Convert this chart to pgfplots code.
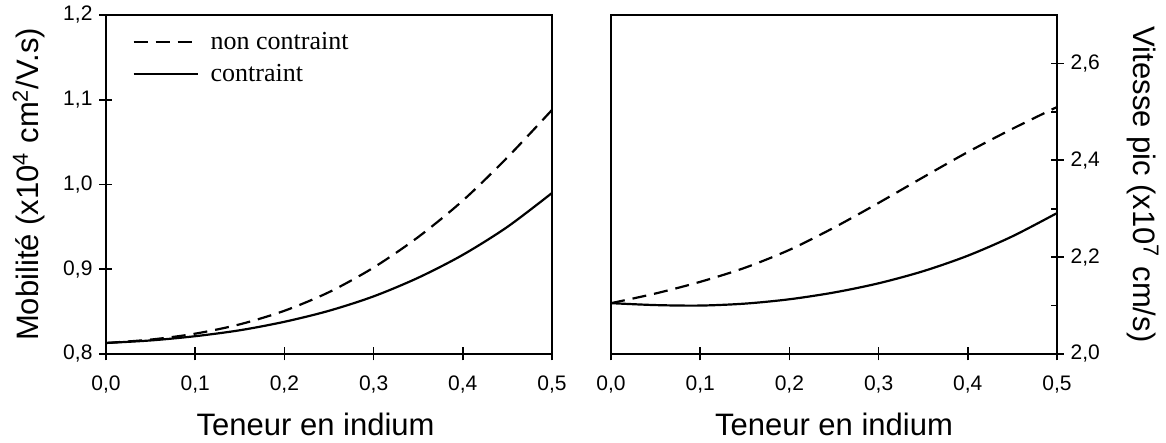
\documentclass[border=0pt]{standalone}
\usepackage{pgfplots}
\pgfplotsset{compat=1.18}
\usepackage{fontspec}
\setmainfont{Liberation Sans}
\newfontfamily\legfont{Liberation Serif}

\newcommand\labelfont{\fontsize{15.5}{18}\selectfont}

\pgfplotsset{
  panel/.style={
    scale only axis,
    width=223pt, height=169.5pt,
    xmin=0, xmax=0.5,
    xtick={0,0.1,0.2,0.3,0.4,0.5},
    axis line style={line width=0.8pt},
    every tick/.style={line width=0.8pt, black},
    tick align=center,
    major tick length=6.5pt,
    minor tick length=3pt,
    ticklabel style={font=\fontsize{10.5}{12}\selectfont},
    xticklabel style={yshift=-4pt},
    /pgf/number format/fixed,
    /pgf/number format/fixed zerofill,
    /pgf/number format/precision=1,
    /pgf/number format/use comma,
    /pgf/number format/assume math mode=true,
    xlabel={Teneur en indium},
    xtick pos=bottom,
  },
  dashcurve/.style={black, line width=1.1pt, dash pattern=on 7pt off 4pt, smooth},
  solidcurve/.style={black, line width=1.1pt, smooth},
}

\begin{document}
\begin{tikzpicture}
\useasboundingbox (-53pt,-44.5pt) rectangle (530pt,177pt);

% Mobilité
\begin{axis}[
  panel,
  ymin=0.8, ymax=1.2,
  ytick={0.8,0.9,1.0,1.1,1.2},
  ytick pos=left,
  every axis x label/.style={at={(axis description cs:0.47,0)}, anchor=base, yshift=-40.5pt, font=\labelfont},
  ylabel={Mobilité (x10\textsuperscript{4} cm\textsuperscript{2}/V.s)},
  every axis y label/.style={at={(axis description cs:-0.152,0.5)}, rotate=90, anchor=base, font=\labelfont},
  legend cell align=left,
  legend style={draw=none, fill=none, at={(axis description cs:0.045,0.975)}, anchor=north west,
    font=\legfont\fontsize{13}{15}\selectfont, row sep=2pt},
  legend image code/.code={\draw[#1] (0pt,0pt) -- (32pt,0pt); \path (36pt,0pt);},
]
\addplot[dashcurve] table {
x y
0.00 0.813
0.05 0.817
0.10 0.824
0.15 0.835
0.20 0.851
0.25 0.873
0.30 0.902
0.35 0.938
0.40 0.981
0.45 1.032
0.50 1.088
};
\addlegendentry{non contraint}
\addplot[solidcurve] table {
x y
0.00 0.813
0.05 0.816
0.10 0.821
0.15 0.828
0.20 0.838
0.25 0.851
0.30 0.868
0.35 0.890
0.40 0.917
0.45 0.950
0.50 0.990
};
\addlegendentry{contraint}
\end{axis}

% Vitesse pic
\begin{axis}[
  panel,
  at={(252.5pt,0pt)}, anchor=south west,
  ymin=2.0, ymax=2.7,
  ytick={2.0,2.2,2.4,2.6},
  minor ytick={2.1,2.3,2.5},
  minor y tick style={xshift=-1.5pt},
  ytick pos=right,
  yticklabel pos=right,
  every axis x label/.style={at={(axis description cs:0.5,0)}, anchor=base, yshift=-40.5pt, font=\labelfont},
  ylabel={Vitesse pic (x10\textsuperscript{7} cm/s)},
  every axis y label/.style={at={(axis description cs:1.171,0.5)}, rotate=-90, anchor=base, font=\labelfont},
]
\addplot[dashcurve] table {
x y
0.00 2.105
0.05 2.125
0.10 2.149
0.15 2.178
0.20 2.215
0.25 2.261
0.30 2.312
0.35 2.365
0.40 2.417
0.45 2.465
0.50 2.510
};
\addplot[solidcurve] table {
x y
0.00 2.105
0.05 2.101
0.10 2.100
0.15 2.104
0.20 2.113
0.25 2.127
0.30 2.146
0.35 2.171
0.40 2.203
0.45 2.243
0.50 2.291
};
\end{axis}
\end{tikzpicture}
\end{document}
